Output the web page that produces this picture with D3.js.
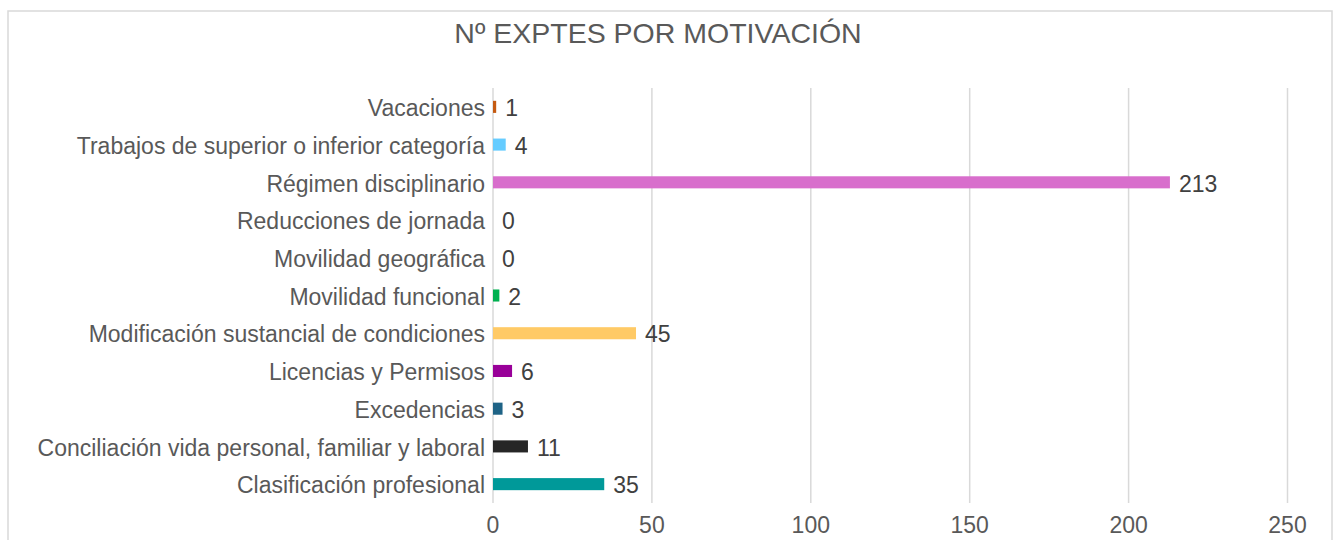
<!DOCTYPE html>
<html>
<head>
<meta charset="utf-8">
<script src="https://cdn.jsdelivr.net/npm/d3@7"></script>
<style>
  body { margin: 0; background: #fff; }
  svg text { font-family: "Liberation Sans", Arial, sans-serif; }
</style>
</head>
<body>
<div id="chart"></div>
<script>
var svgWidth = 1336;
var svgHeight = 540;

var margin = { top: 88, bottom: 37, left: 493, right: 48.5 };

var categories = [
    "Vacaciones",
    "Trabajos de superior o inferior categoría",
    "Régimen disciplinario",
    "Reducciones de jornada",
    "Movilidad geográfica",
    "Movilidad funcional",
    "Modificación sustancial de condiciones",
    "Licencias y Permisos",
    "Excedencias",
    "Conciliación vida personal, familiar y laboral",
    "Clasificación profesional"
];
var values = [1, 4, 213, 0, 0, 2, 45, 6, 3, 11, 35];
var colors = ["#C55A11", "#66CCFF", "#D86ECC", "#FFE699", "#A9D18E", "#00B050",
              "#FFCA66", "#990099", "#1F6386", "#262626", "#009999"];
var ticks = [0, 50, 100, 150, 200, 250];

var width = svgWidth - margin.left - margin.right;
var plotH = 415;

var svg = d3.select("#chart")
    .append("svg")
    .attr("width", svgWidth)
    .attr("height", svgHeight);

// chart border
svg.append("rect")
    .attr("x", 8)
    .attr("y", 11)
    .attr("width", 1324)
    .attr("height", 560)
    .attr("fill", "none")
    .attr("stroke", "#D9D9D9")
    .attr("stroke-width", 1.5);

svg.append("text")
    .attr("x", 658)
    .attr("y", 43)
    .attr("text-anchor", "middle")
    .attr("font-size", "28.5px")
    .attr("fill", "#595959")
    .text("Nº EXPTES POR MOTIVACIÓN");

var chartGroup = svg.append("g")
    .attr("transform", `translate(${margin.left}, ${margin.top})`);

var xScale = d3.scaleLinear()
    .domain([0, 250])
    .range([0, width]);

var yScale = d3.scaleBand()
    .domain(categories)
    .range([0, plotH])
    .paddingInner(0.68)
    .paddingOuter(0.34);

// gridlines
chartGroup.selectAll(".grid")
    .data(ticks)
    .enter()
    .append("line")
    .attr("x1", d => xScale(d))
    .attr("x2", d => xScale(d))
    .attr("y1", 0)
    .attr("y2", plotH)
    .attr("stroke", "#D9D9D9")
    .attr("stroke-width", 1.5);

// x tick labels
chartGroup.selectAll(".xtick")
    .data(ticks)
    .enter()
    .append("text")
    .attr("x", d => xScale(d))
    .attr("y", plotH + 30)
    .attr("text-anchor", "middle")
    .attr("font-size", "23px")
    .attr("fill", "#595959")
    .text(d => d);

// category labels
chartGroup.selectAll(".ylab")
    .data(categories)
    .enter()
    .append("text")
    .attr("x", -8)
    .attr("y", d => yScale(d) + yScale.bandwidth() / 2)
    .attr("dy", "0.4em")
    .attr("text-anchor", "end")
    .attr("font-size", "23px")
    .attr("fill", "#595959")
    .text(d => d);

// bars
chartGroup.selectAll(".bar")
    .data(values)
    .enter()
    .append("rect")
    .attr("x", 0)
    .attr("y", (d, i) => yScale(categories[i]))
    .attr("width", d => xScale(d))
    .attr("height", yScale.bandwidth())
    .attr("fill", (d, i) => colors[i]);

// value labels
chartGroup.selectAll(".val")
    .data(values)
    .enter()
    .append("text")
    .attr("x", d => xScale(d) + 9)
    .attr("y", (d, i) => yScale(categories[i]) + yScale.bandwidth() / 2)
    .attr("dy", "0.4em")
    .attr("font-size", "23px")
    .attr("fill", "#404040")
    .text(d => d);
</script>
</body>
</html>
